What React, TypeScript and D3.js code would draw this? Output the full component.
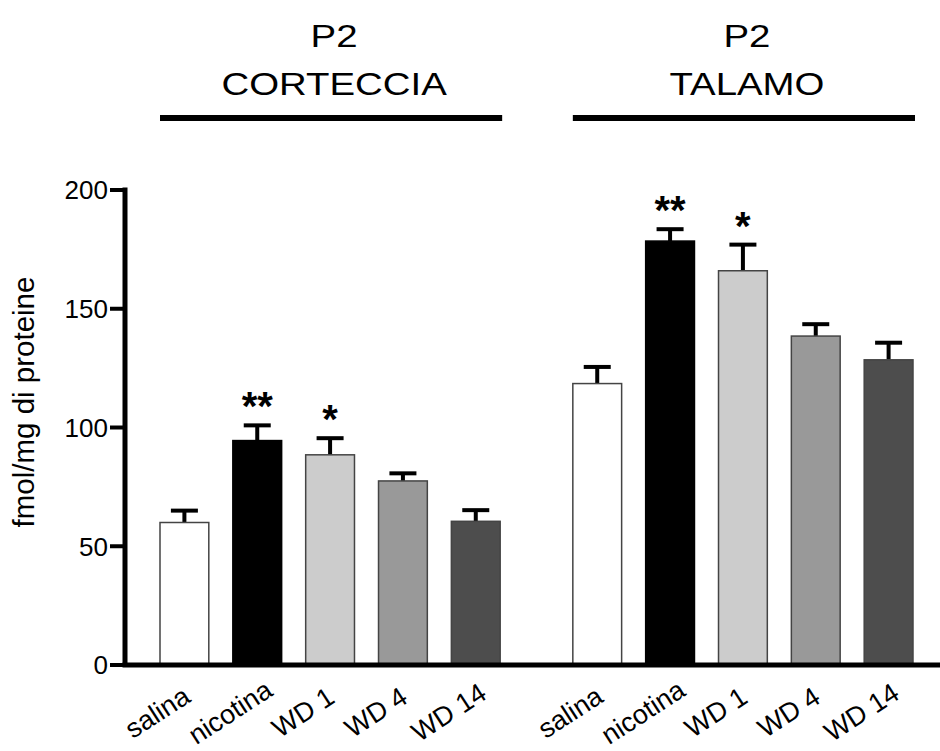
import React, { useEffect, useRef } from "react";
import * as d3 from "d3";

const categories = ["salina", "nicotina", "WD 1", "WD 4", "WD 14"];
const groups = ["CORTECCIA", "TALAMO"];

const cortecciaMean = [60, 94.5, 88.5, 77.5, 60.5];
const cortecciaErr = [5, 6.4, 7, 3.2, 4.7];
const talamoMean = [118.5, 178.5, 166, 138.5, 128.5];
const talamoErr = [7, 5, 11, 5, 7.2];
const stars = ["", "**", "*", "", ""];

const fills = ["#ffffff", "#000000", "#cccccc", "#999999", "#4d4d4d"];
const yTicks = [0, 50, 100, 150, 200];

const FONT = "'Liberation Sans', Arial, Helvetica, sans-serif";

export default function App() {
  const ref = useRef<SVGSVGElement>(null);

  useEffect(() => {
    const svg = d3.select(ref.current);
    svg.selectAll("*").remove();

    const y = d3.scaleLinear().domain([0, 200]).range([665, 190]);
    const x0 = d3.scaleBand().domain(groups).range([160, 913]).paddingInner(0.176);
    const x1 = d3.scaleBand().domain(categories).range([0, x0.bandwidth()]).paddingInner(0.33);

    const rows = [
      { group: "CORTECCIA", means: cortecciaMean, errs: cortecciaErr },
      { group: "TALAMO", means: talamoMean, errs: talamoErr },
    ];

    // headers (text is a bit wide in the original, so stretch it)
    rows.forEach(r => {
      const gx = x0(r.group)!;
      const cx = gx + x0.bandwidth() / 2 + 4;
      svg.append("text").attr("transform", `translate(${cx},46.5) scale(1.2,1)`).attr("text-anchor", "middle")
        .attr("font-family", FONT).attr("font-size", 32).text("P2");
      svg.append("text").attr("transform", `translate(${cx},95) scale(1.2,1)`).attr("text-anchor", "middle")
        .attr("font-family", FONT).attr("font-size", 32).text(r.group);
      svg.append("line").attr("x1", gx).attr("x2", gx + x0.bandwidth() + 2)
        .attr("y1", 118).attr("y2", 118).attr("stroke", "#000").attr("stroke-width", 6);
    });

    // bars
    rows.forEach(r => {
      const g = svg.append("g").attr("transform", `translate(${x0(r.group)},0)`);
      categories.forEach((c, i) => {
        const bx = x1(c)!;
        const bw = x1.bandwidth();
        const cx = bx + bw / 2;
        const top = y(r.means[i]);
        const errTop = y(r.means[i] + r.errs[i]);
        // error bar
        g.append("line").attr("x1", cx).attr("x2", cx).attr("y1", top).attr("y2", errTop)
          .attr("stroke", "#000").attr("stroke-width", 4);
        g.append("line").attr("x1", cx - 13.5).attr("x2", cx + 13.5).attr("y1", errTop).attr("y2", errTop)
          .attr("stroke", "#000").attr("stroke-width", 4);
        g.append("rect").attr("x", bx).attr("y", top).attr("width", bw).attr("height", y(0) - top)
          .attr("fill", fills[i]).attr("stroke", i === 1 ? "#000" : "#444").attr("stroke-width", 1.5);
        if (stars[i]) {
          g.append("text").attr("x", cx).attr("y", errTop - 5).attr("text-anchor", "middle")
            .attr("font-family", FONT).attr("font-weight", "bold").attr("font-size", 40).text(stars[i]);
        }
        // x label
        const lx = cx - 22;
        const ly = 720;
        g.append("text").attr("transform", `translate(${lx},${ly}) rotate(-33)`)
          .attr("text-anchor", "middle").attr("font-family", FONT).attr("font-size", 27)
          .text(c);
      });
    });

    // y axis
    const axis = svg.append("g");
    axis.append("line").attr("x1", 125).attr("x2", 125).attr("y1", y(200) - 2.5).attr("y2", y(0))
      .attr("stroke", "#000").attr("stroke-width", 5);
    axis.append("line").attr("x1", 122.5).attr("x2", 940).attr("y1", y(0)).attr("y2", y(0))
      .attr("stroke", "#000").attr("stroke-width", 5);
    yTicks.forEach(t => {
      axis.append("line").attr("x1", 110).attr("x2", 125).attr("y1", y(t)).attr("y2", y(t))
        .attr("stroke", "#000").attr("stroke-width", 4);
      axis.append("text").attr("x", 108).attr("y", y(t)).attr("dy", "0.36em")
        .attr("text-anchor", "end").attr("font-family", FONT).attr("font-size", 26).text(String(t));
    });
    svg.append("text").attr("transform", `translate(34,402) rotate(-90)`)
      .attr("text-anchor", "middle").attr("font-family", FONT).attr("font-size", 29.5)
      .text("fmol/mg di proteine");
  }, []);

  return (
    <svg ref={ref} width={940} height={751} viewBox="0 0 940 751"
      style={{ position: "absolute", left: 0, top: 0, display: "block", background: "#fff" }} />
  );
}
